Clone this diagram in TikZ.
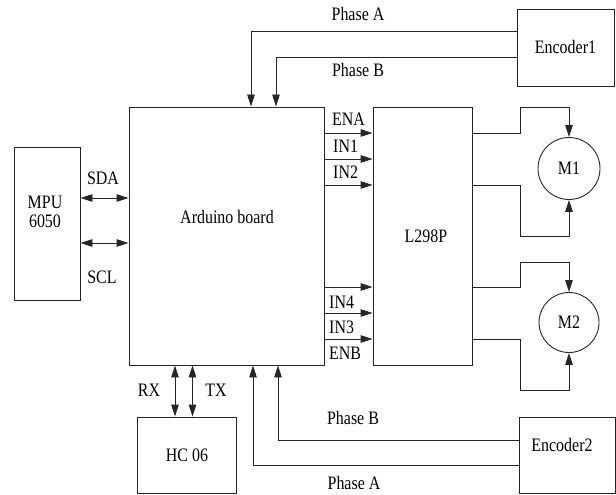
\documentclass[tikz,border=0pt]{standalone}
\usepackage{fontspec}
\setmainfont{Liberation Serif}[FakeStretch=0.84]
\usetikzlibrary{arrows.meta}
\begin{document}
\begin{tikzpicture}[x=1pt,y=-1pt,font=\rmfamily\fontsize{19}{19}\selectfont,
    box/.style={draw=black!85, line width=0.9pt, inner sep=0pt},
    wire/.style={draw=black!85, line width=0.9pt},
    sig/.style={wire, -{Triangle[length=12pt,width=7.5pt]}},
    bus/.style={wire, {Triangle[length=12pt,width=7.5pt]}-{Triangle[length=12pt,width=7.5pt]}}]
        \useasboundingbox (0,0) rectangle (616,495);
        \node[box, minimum width=195pt, minimum height=258pt] (arduino) at (226.5,236) {};
        \node[box, minimum width=99pt, minimum height=258pt] (l298) at (422.5,236) {};
        \node[box, minimum width=66pt, minimum height=153pt] (mpu) at (47,223.5) {};
        \node[box, minimum width=97pt, minimum height=77pt] (enc1) at (565.5,47.5) {Encoder1};
        \node[box, minimum width=96pt, minimum height=76pt] (enc2) at (567,455) {};
        \node[box, minimum width=99pt, minimum height=76pt] (hc) at (187,455) {HC 06};
        \node[box, circle, minimum size=62pt] (m1) at (569,168.5) {M1};
        \node[box, circle, minimum size=60pt] (m2) at (569,322.5) {M2};
        \node (ardlbl) at (227,217) {Arduino board};
        \node (l298lbl) at (426,236) {L298P};
        \node[align=center] (mpulbl) at (45,212) {MPU\\6050};
        \node (enc2lbl) at (562,445) {Encoder2};
        \draw[sig] (enc1.west |- 0,31) -| (arduino.north -| 251,0);
        \draw[sig] (enc1.west |- 0,57) -| (arduino.north -| 276,0);
        \draw[sig] (enc2.west |- 0,465) -| (arduino.south -| 253,0);
        \draw[sig] (enc2.west |- 0,440) -| (arduino.south -| 278,0);
        \node (pa1) at (358,14) {Phase A};
        \node (pb1) at (358,70) {Phase B};
        \node (pb2) at (353,418) {Phase B};
        \node (pa2) at (354,483) {Phase A};
        \draw[bus] (mpu.east |- 0,198) -- (arduino.west |- 0,198);
        \draw[bus] (mpu.east |- 0,243) -- (arduino.west |- 0,243);
        \node (sda) at (103,178) {SDA};
        \node (scl) at (102,277) {SCL};
        \draw[bus] (arduino.south -| 175,0) -- (hc.north -| 175,0);
        \draw[bus] (arduino.south -| 192.5,0) -- (hc.north -| 192.5,0);
        \node (rx) at (149,390) {RX};
        \node (tx) at (216,390) {TX};
        \draw[sig] (arduino.east |- 0,133) -- (l298.west |- 0,133);
        \draw[sig] (arduino.east |- 0,159) -- (l298.west |- 0,159);
        \draw[sig] (arduino.east |- 0,185) -- (l298.west |- 0,185);
        \draw[sig] (arduino.east |- 0,287) -- (l298.west |- 0,287);
        \draw[sig] (arduino.east |- 0,313) -- (l298.west |- 0,313);
        \draw[sig] (arduino.east |- 0,339) -- (l298.west |- 0,339);
        \node[anchor=west, inner sep=0pt] (ena) at (332,119) {ENA};
        \node[anchor=west, inner sep=0pt] (in1) at (333,146) {IN1};
        \node[anchor=west, inner sep=0pt] (in2) at (333,172) {IN2};
        \node[anchor=west, inner sep=0pt] (in4) at (329,302) {IN4};
        \node[anchor=west, inner sep=0pt] (in3) at (329,327) {IN3};
        \node[anchor=west, inner sep=0pt] (enb) at (329,353) {ENB};
        \coordinate (m1a) at (520,107);
        \coordinate (m1b) at (520,236);
        \coordinate (m2a) at (520,262);
        \coordinate (m2b) at (520,390);
        \draw[sig] (l298.east |- 0,133) -| (m1a) -| (m1.north);
        \draw[sig] (l298.east |- 0,185) -| (m1b) -| (m1.south);
        \draw[sig] (l298.east |- 0,287) -| (m2a) -| (m2.north);
        \draw[sig] (l298.east |- 0,339) -| (m2b) -| (m2.south);
    \end{tikzpicture}
\end{document}
